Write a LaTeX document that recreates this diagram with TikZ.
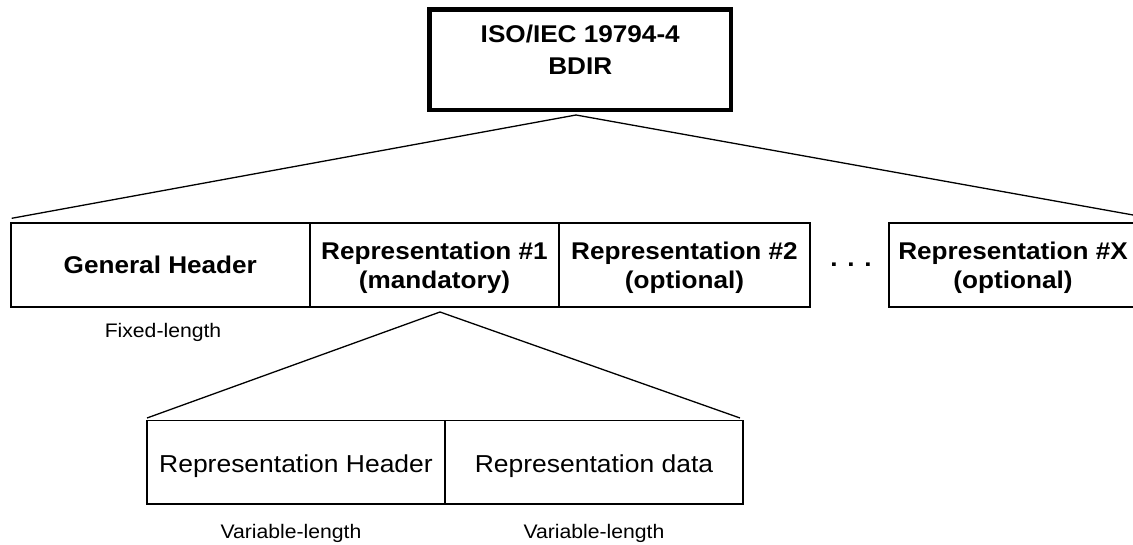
\documentclass[tikz,border=0pt]{standalone}
\usepackage{fontspec}
\setmainfont[FakeStretch=1.08]{Liberation Sans}
\usetikzlibrary{calc}

\tikzset{
  every node/.style={outer sep=0pt, inner sep=0pt},
  topbox/.style={draw, line width=4.6pt, minimum width=301.5pt, minimum height=100.5pt,
    align=center, font=\bfseries\fontsize{24.2}{31.6}\selectfont, text depth=20pt},
  fieldbox/.style={draw, line width=2.2pt, minimum height=84.3pt,
    align=center, font=\bfseries\fontsize{24.2}{29}\selectfont},
  twoline/.style={text height=52.7pt},
  subbox/.style={draw, line width=1.5pt, minimum width=298pt, minimum height=83.3pt,
    font=\fontsize{24.5}{30}\selectfont, text height=20.5pt, text depth=0pt},
  sizenote/.style={anchor=base, font=\fontsize{19.6}{24}\selectfont},
  conn/.style={line width=1.3pt, line join=miter}
}

\begin{document}
\begin{tikzpicture}[x=1pt, y=1pt]
  \useasboundingbox (0,0) rectangle (1133,-545);

  % record root
  \node[topbox] (bdir) at (580.25,-59.75) {ISO/IEC 19794-4\\BDIR};

  % top-level fields of the record
  \node[fieldbox, minimum width=299.4pt] (gh)   at (160.3,-264.85) {General Header};
  \node[fieldbox, twoline, minimum width=249pt] (rep1) at (434.5,-264.85) {Representation \#1\\(mandatory)};
  \node[fieldbox, twoline, minimum width=251pt] (rep2) at (684.5,-264.85) {Representation \#2\\(optional)};
  \node[anchor=base, font=\bfseries\fontsize{24.2}{29}\selectfont] (dots) at (851,-267) {. . .};
  \node[fieldbox, twoline, minimum width=248pt] (repX) at (1013,-264.85) {Representation \#X\\(optional)};

  % contents of one representation
  \node[subbox] (rh) at (296,-462.35) {Representation Header};
  \node[subbox] (rd) at (594,-462.35) {Representation data};

  % length notes
  \node[sizenote] (ghlen) at ($(gh.south)+(2.7,-30.7)$) {Fixed-length};
  \node[sizenote] (rhlen) at ($(rh.south)+(-5,-34)$) {Variable-length};
  \node[sizenote] (rdlen) at ($(rd.south)+(0,-34)$) {Variable-length};

  % expansion wedges
  \coordinate (apexA) at ($(bdir.south)+(-4.25,-5)$);
  \coordinate (ghEnd) at ($(gh.north west)+(1.1,4.4)$);
  \coordinate (repXEnd) at ($(repX.north east)+(14.5,4.4)$);
  \draw[conn] (ghEnd) -- (apexA) -- (repXEnd);

  \coordinate (apexB) at ($(rep1.south)+(5.5,-5)$);
  \coordinate (rhEnd) at ($(rh.north west)+(0,2.7)$);
  \coordinate (rdEnd) at ($(rd.north east)+(-3,2.7)$);
  \draw[conn] (rhEnd) -- (apexB) -- (rdEnd);
\end{tikzpicture}
\end{document}
